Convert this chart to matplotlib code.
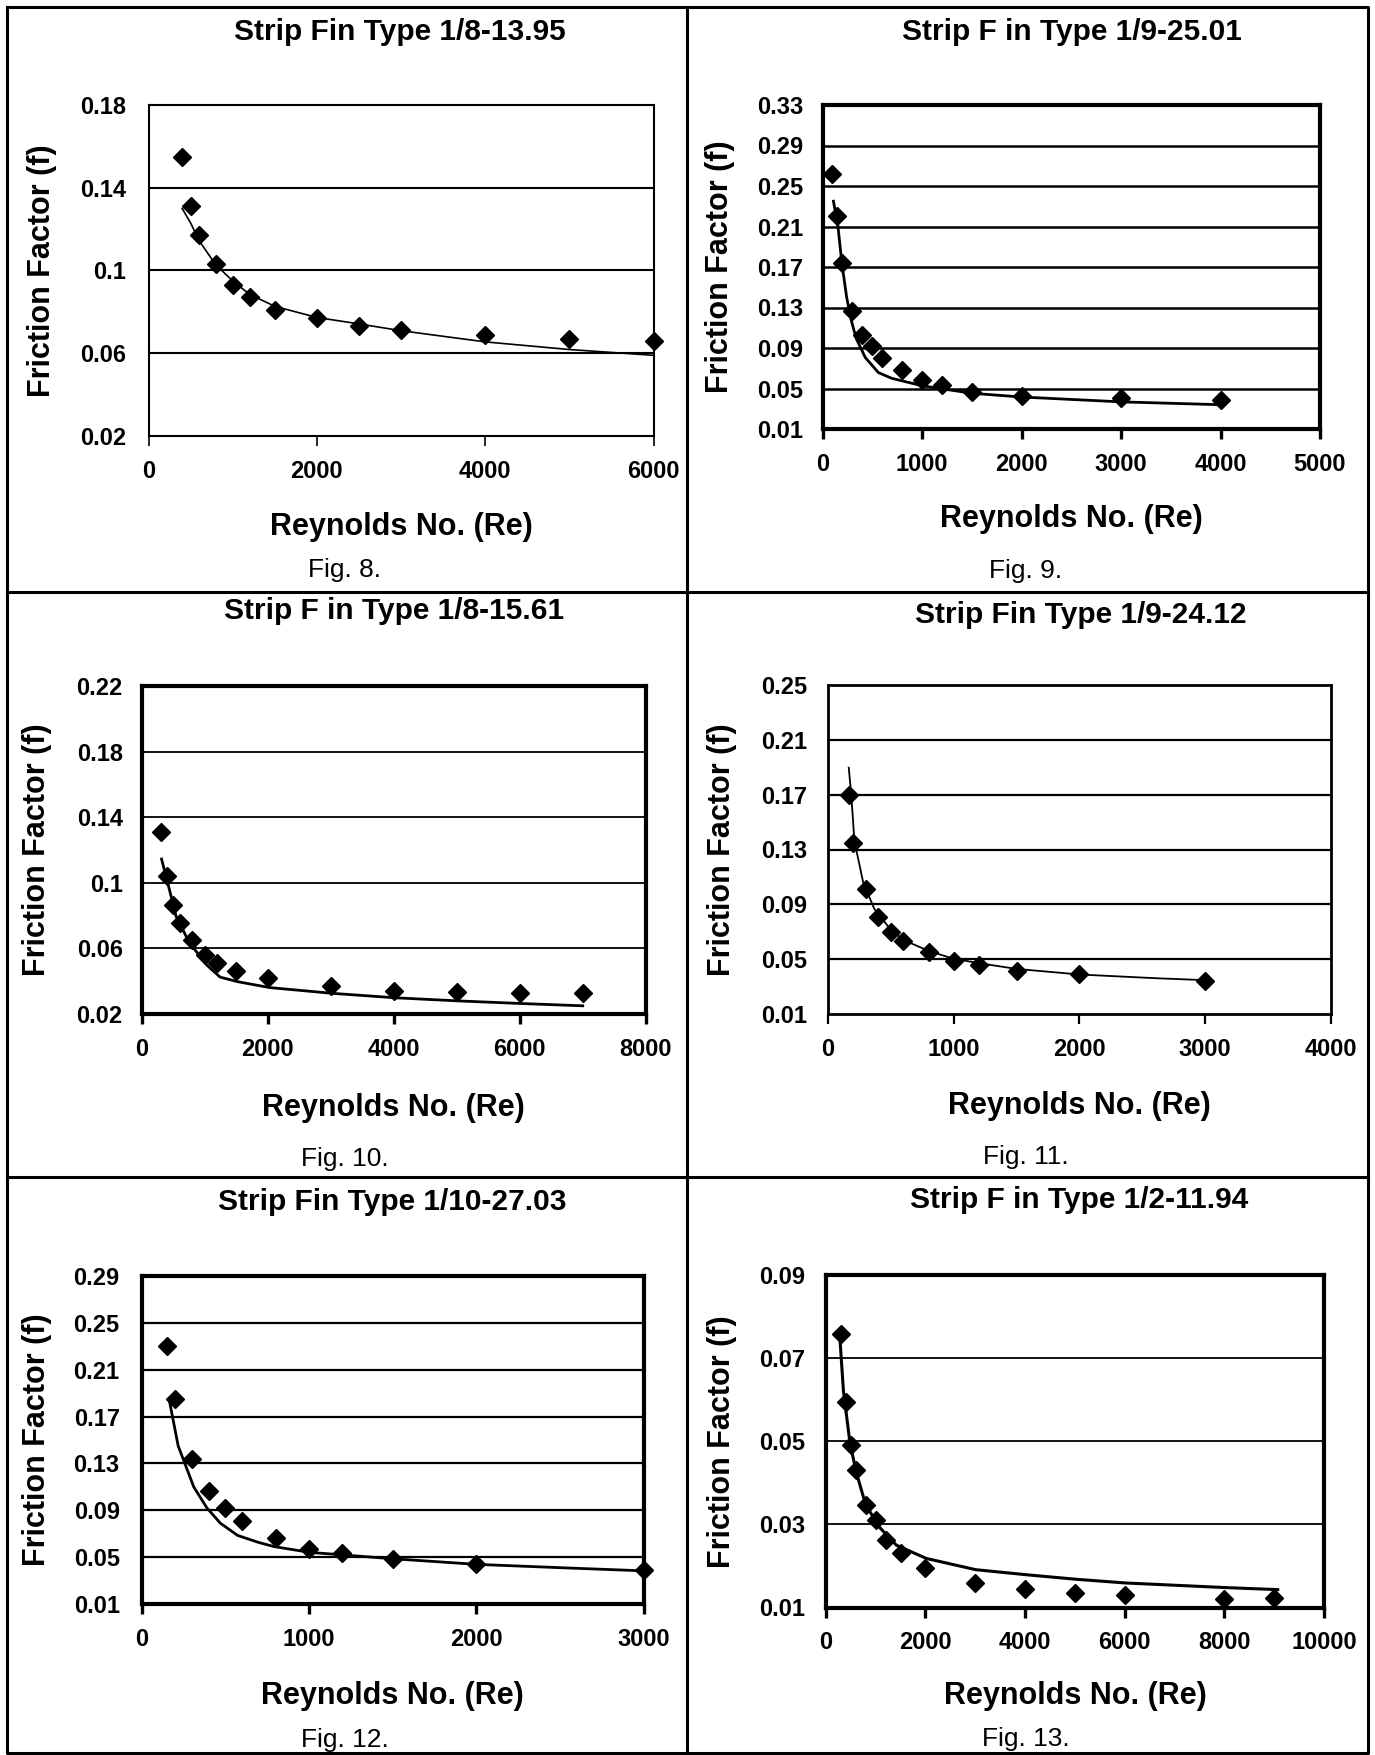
import numpy as np
import matplotlib
matplotlib.use('Agg')
import matplotlib.pyplot as plt
from matplotlib.ticker import FixedLocator, FuncFormatter

plt.rcParams['font.family'] = ['Liberation Sans', 'DejaVu Sans']

W, H = 1375, 1755

# ---- data ----
titles = ['Strip Fin Type 1/8-13.95', 'Strip F in Type 1/9-25.01',
          'Strip F in Type 1/8-15.61', 'Strip Fin Type 1/9-24.12',
          'Strip Fin Type 1/10-27.03', 'Strip F in Type 1/2-11.94']
captions = ['Fig. 8.', 'Fig. 9.', 'Fig. 10.', 'Fig. 11.', 'Fig. 12.', 'Fig. 13.']

# Fig. 8
re8 = [400, 500, 600, 800, 1000, 1200, 1500, 2000, 2500, 3000, 4000, 5000, 6000]
f8 = [0.155, 0.131, 0.117, 0.103, 0.093, 0.087, 0.081, 0.077, 0.073, 0.071, 0.069, 0.067, 0.066]
fit_re8 = [400, 500, 600, 800, 1000, 1200, 1500, 2000, 2500, 3000, 4000, 5000, 6000]
fit_f8 = [0.130, 0.123, 0.1145, 0.1027, 0.095, 0.0885, 0.0827, 0.0773, 0.0742, 0.0709, 0.0655, 0.0618, 0.059]

# Fig. 9
re9 = [100, 150, 200, 300, 400, 500, 600, 800, 1000, 1200, 1500, 2000, 3000, 4000]
f9 = [0.262, 0.220, 0.174, 0.127, 0.103, 0.092, 0.080, 0.068, 0.058, 0.053, 0.047, 0.043, 0.0405, 0.039]
fit_re9 = [110, 155, 195, 243, 288, 340, 430, 562, 695, 1000, 1500, 2000, 3000, 4000]
fit_f9 = [0.235, 0.2105, 0.1734, 0.140, 0.1177, 0.0991, 0.0806, 0.0657, 0.0601, 0.0527, 0.0453, 0.0416, 0.0368, 0.034]

# Fig. 10
re10 = [300, 400, 500, 600, 800, 1000, 1200, 1500, 2000, 3000, 4000, 5000, 6000, 7000]
f10 = [0.131, 0.104, 0.0865, 0.0755, 0.065, 0.056, 0.051, 0.046, 0.042, 0.037, 0.034, 0.0333, 0.0326, 0.0326]
fit_re10 = [315, 426, 545, 755, 1034, 1244, 1523, 2033, 3026, 4018, 5017, 6017, 7000]
fit_f10 = [0.1145, 0.098, 0.0796, 0.0636, 0.0498, 0.0425, 0.0397, 0.0361, 0.0326, 0.0299, 0.028, 0.0264, 0.025]

# Fig. 11
re11 = [165, 200, 300, 400, 500, 600, 800, 1000, 1200, 1500, 2000, 3000]
f11 = [0.170, 0.135, 0.101, 0.081, 0.070, 0.0635, 0.0553, 0.049, 0.0457, 0.0416, 0.0389, 0.0342]
fit_re11 = [165, 186, 210, 280, 368, 508, 613, 799, 998, 1208, 1499, 2004, 2609, 3000]
fit_f11 = [0.1897, 0.169, 0.1362, 0.106, 0.0868, 0.0704, 0.0635, 0.0561, 0.0503, 0.047, 0.0429, 0.0388, 0.0361, 0.0347]

# Fig. 12
re12 = [150, 200, 300, 400, 500, 600, 800, 1000, 1200, 1500, 2000, 3000]
f12 = [0.230, 0.185, 0.134, 0.1065, 0.092, 0.081, 0.066, 0.057, 0.0535, 0.0486, 0.0438, 0.0389]
fit_re12 = [165, 218, 311, 390, 470, 574, 700, 792, 1003, 1503, 2008, 2574, 3000]
fit_f12 = [0.184, 0.145, 0.110, 0.092, 0.079, 0.0685, 0.0625, 0.0590, 0.0541, 0.0486, 0.0438, 0.0406, 0.0383]

# Fig. 13
re13 = [300, 400, 500, 600, 800, 1000, 1200, 1500, 2000, 3000, 4000, 5000, 6000, 8000, 9000]
f13 = [0.0759, 0.0594, 0.0492, 0.0432, 0.0347, 0.0311, 0.0263, 0.0231, 0.0195, 0.0159, 0.0145, 0.0136, 0.0130, 0.0121, 0.0123]
fit_re13 = [283, 354, 487, 619, 796, 1062, 1416, 2018, 3009, 4009, 5018, 6018, 8009, 9071]
fit_f13 = [0.0748, 0.0621, 0.0494, 0.0422, 0.0349, 0.0295, 0.025, 0.0218, 0.0191, 0.0179, 0.0168, 0.0159, 0.0148, 0.0143]

x_ticks = [np.arange(0, 6001, 2000), np.arange(0, 5001, 1000), np.arange(0, 8001, 2000),
           np.arange(0, 4001, 1000), np.arange(0, 3001, 1000), np.arange(0, 10001, 2000)]
y_ticks = [[0.02, 0.06, 0.10, 0.14, 0.18],
           [0.01, 0.05, 0.09, 0.13, 0.17, 0.21, 0.25, 0.29, 0.33],
           [0.02, 0.06, 0.10, 0.14, 0.18, 0.22],
           [0.01, 0.05, 0.09, 0.13, 0.17, 0.21, 0.25],
           [0.01, 0.05, 0.09, 0.13, 0.17, 0.21, 0.25, 0.29],
           [0.01, 0.03, 0.05, 0.07, 0.09]]

series = [(re8, f8, fit_re8, fit_f8), (re9, f9, fit_re9, fit_f9),
          (re10, f10, fit_re10, fit_f10), (re11, f11, fit_re11, fit_f11),
          (re12, f12, fit_re12, fit_f12), (re13, f13, fit_re13, fit_f13)]

# layout in pixels: axes box (L, R, T, B), title y, xlabel y, ylabel x, caption (x, y)
boxes = [(148.5, 653.5, 105, 436), (822.5, 1320, 105, 429),
         (141.7, 645.7, 686, 1014), (828, 1330.7, 685, 1014),
         (141.7, 643.5, 1276, 1604), (825.8, 1324, 1275, 1607.5)]
title_pos = [(400, 40), (1072, 40), (394, 619), (1081, 623), (392, 1210), (1079, 1208)]
xlab_y = [527, 519, 1108, 1106, 1696, 1696]
ylab_x = [42, 720, 37, 722, 37, 722]
cap_pos = [(345, 570), (1026, 571), (345, 1159), (1026, 1157), (345, 1740), (1026, 1739)]
frame_lw = [1.5, 3.0, 3.0, 2.0, 3.0, 3.0]
grid_lw = [1.5, 1.8, 1.3, 1.6, 1.6, 1.3]
fit_lw = [1.2, 2.0, 2.0, 1.3, 2.0, 2.2]
ylab_pad = [22, 19, 19, 21, 22, 21]

px = 0.72  # points per pixel at 100 dpi


def yfmt(v, pos):
    s = '%.2f' % v
    if s.endswith('0'):
        s = s[:-1]
    return s


fig = plt.figure(figsize=(W / 100, H / 100), dpi=100)

# table lines
bg = fig.add_axes([0, 0, 1, 1], zorder=-1)
bg.set_xlim(0, W)
bg.set_ylim(H, 0)
bg.axis('off')
bg.plot([6.7, 1368, 1368, 6.7, 6.7], [6.7, 6.7, 1753, 1753, 6.7], color='black', lw=2.2)
bg.plot([686.7, 686.7], [6.7, 1753], color='black', lw=2.2)
bg.plot([6.7, 1368], [592, 592], color='black', lw=2.2)
bg.plot([6.7, 1368], [1177, 1177], color='black', lw=2.2)

for i in range(6):
    L, R, T, B = boxes[i]
    ax = fig.add_axes([L / W, 1 - B / H, (R - L) / W, (B - T) / H])
    re, f, fre, ff = series[i]
    xt = x_ticks[i]
    yt = y_ticks[i]
    ax.set_xlim(xt[0], xt[-1])
    ax.set_ylim(yt[0], yt[-1])
    ax.xaxis.set_major_locator(FixedLocator(xt))
    ax.yaxis.set_major_locator(FixedLocator(yt))
    ax.yaxis.set_major_formatter(FuncFormatter(yfmt))
    ax.xaxis.set_major_formatter(FuncFormatter(lambda v, p: '%d' % v))
    for yv in yt[1:-1]:
        ax.axhline(yv, color='black', lw=grid_lw[i], zorder=1)
    ax.plot(fre, ff, color='black', lw=fit_lw[i], zorder=2)
    ax.plot(re, f, linestyle='none', marker='D', ms=9, color='black',
            mec='black', mew=1, clip_on=False, zorder=3)
    for sp in ax.spines.values():
        sp.set_linewidth(frame_lw[i])
    ax.tick_params(axis='x', direction='out', length=10 * px, width=frame_lw[i] * 0.8,
                   pad=10, labelsize=17)
    ax.tick_params(axis='y', length=0, pad=ylab_pad[i] * px, labelsize=17)
    for lab in ax.get_xticklabels() + ax.get_yticklabels():
        lab.set_fontweight('bold')

    ax.set_title(titles[i], fontsize=21.5, fontweight='bold',
                 x=(title_pos[i][0] - L) / (R - L), y=(B - title_pos[i][1]) / (B - T),
                 va='center')
    ax.set_xlabel('Reynolds No. (Re)', fontsize=22, fontweight='bold')
    ax.xaxis.set_label_coords(0.5, (B - xlab_y[i]) / (B - T))
    ax.xaxis.label.set_va('center')
    ax.set_ylabel('Friction Factor (f)', fontsize=22, fontweight='bold')
    ax.yaxis.set_label_coords((ylab_x[i] - L) / (R - L), 0.5)
    ax.yaxis.label.set_va('center')

    cx, cy = cap_pos[i]
    fig.text(cx / W, 1 - cy / H, captions[i], fontsize=19, ha='center', va='center')

fig.savefig('out.png', dpi=100)
